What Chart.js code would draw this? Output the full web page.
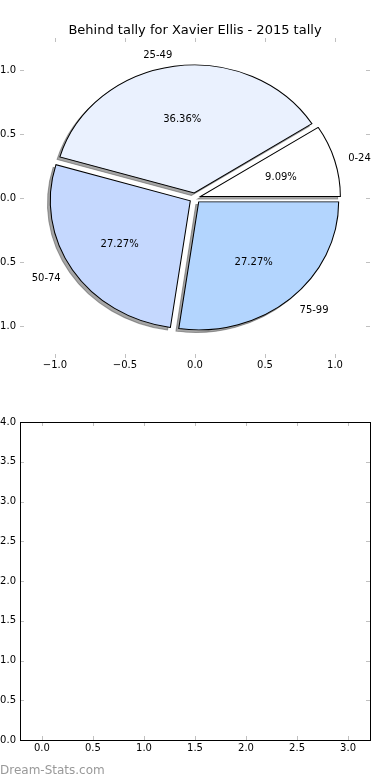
<!DOCTYPE html>
<html>
<head>
<meta charset="utf-8">
<script src="https://cdn.jsdelivr.net/npm/chart.js@4.4.0/dist/chart.umd.min.js"></script>
<style>
  html, body { margin: 0; padding: 0; background: #fff; }
  #pagina { position: relative; width: 390px; height: 780px; overflow: hidden; background: #fff; }
  canvas { position: absolute; }
  #marca { position: absolute; left: 0; top: 763px; font: 12px "DejaVu Sans"; line-height: 14px; color: #999; }
</style>
</head>
<body>
<div id="pagina">
  <canvas id="ejesTorta" width="430" height="390" style="left:-20px;top:0"></canvas>
  <canvas id="torta" width="430" height="390" style="left:-20px;top:0"></canvas>
  <canvas id="ejesVacios" width="430" height="390" style="left:-20px;top:390px"></canvas>
  <div id="marca">Dream-Stats.com</div>
</div>
<script>
// datos de la torta (orden de matplotlib: desde el este, antihorario)
const rangos = ['0-24', '25-49', '50-74', '75-99'];
const cantidades = [1, 4, 3, 3];
const colores = ['#ffffff', '#eaf1fe', '#c5d8fe', '#b3d5fe'];
const titulo = 'Behind tally for Xavier Ellis - 2015 tally';

// ticks de los ejes
const ticksTorta = [-1, -0.5, 0, 0.5, 1];
const limitesTorta = [-1.25, 1.25];
const ticksVacioX = [0, 0.5, 1, 1.5, 2, 2.5, 3];
const ticksVacioY = [0, 0.5, 1, 1.5, 2, 2.5, 3, 3.5, 4];
const limitesVacioX = [-0.215, 3.215];
const limitesVacioY = [0, 4];

const EXPLOTAR = 0.04;
const fuente = { family: 'DejaVu Sans', size: 10 };

function formatoTick(v) {
    return (v < 0 ? '\u2212' : '') + Math.abs(v).toFixed(1);
}

/**
 * escala lineal con ticks fijos y tamaño fijo
 */
function escala(lado, limites, ticks, tam, relleno) {
    return {
        type: 'linear',
        position: lado,
        min: limites[0],
        max: limites[1],
        afterBuildTicks: (s) => { s.ticks = ticks.map(v => ({ value: v })); },
        afterFit: (s) => {
            if (lado === 'left') s.width = tam; else s.height = tam;
        },
        grid: { display: false, drawTicks: false },
        border: { display: false },
        ticks: { color: '#000', font: fuente, padding: relleno, callback: formatoTick, autoSkip: false, maxRotation: 0 }
    };
}

// marcas cortas hacia dentro en los cuatro lados
const marcasInternas = {
    id: 'marcasInternas',
    afterDraw(chart, args, opts) {
        const { ctx, chartArea: a, scales } = chart;
        ctx.save();
        ctx.strokeStyle = '#c0c0c0';
        ctx.lineWidth = 1;
        ctx.beginPath();
        scales.x.ticks.forEach(t => {
            const px = Math.round(scales.x.getPixelForValue(t.value)) + 0.5;
            ctx.moveTo(px, a.top); ctx.lineTo(px, a.top + 4);
            ctx.moveTo(px, a.bottom); ctx.lineTo(px, a.bottom - 4);
        });
        scales.y.ticks.forEach(t => {
            const py = Math.round(scales.y.getPixelForValue(t.value)) + 0.5;
            ctx.moveTo(a.left, py); ctx.lineTo(a.left + 4, py);
            ctx.moveTo(a.right, py); ctx.lineTo(a.right - 4, py);
        });
        ctx.stroke();
        if (opts.marco) {
            ctx.strokeStyle = '#000';
            ctx.strokeRect(Math.round(a.left) + 0.5, Math.round(a.top) + 0.5,
                Math.round(a.right - a.left), Math.round(a.bottom - a.top));
        }
        ctx.restore();
    }
};

const graficoEjes = new Chart(document.getElementById('ejesTorta'), {
    type: 'scatter',
    data: { datasets: [] },
    options: {
        responsive: false,
        animation: false,
        layout: { padding: { left: 0, right: 40, top: 38, bottom: 0 } },
        scales: {
            x: escala('bottom', limitesTorta, ticksTorta, 32, 1),
            y: escala('left', limitesTorta, ticksTorta, 40, 4)
        },
        plugins: {
            legend: { display: false },
            tooltip: { enabled: false },
            marcasInternas: { marco: false }
        }
    },
    plugins: [marcasInternas]
});

// matplotlib pinta antihorario desde el este; Chart.js horario -> invertir
const rangosInv = rangos.slice().reverse();
const cantidadesInv = cantidades.slice().reverse();
const coloresInv = colores.slice().reverse();

function medidasEjes() {
    const sx = graficoEjes.scales.x, sy = graficoEjes.scales.y;
    const cx = sx.getPixelForValue(0), cy = sy.getPixelForValue(0);
    return { cx, cy, rx: sx.getPixelForValue(1) - cx, ry: cy - sy.getPixelForValue(1) };
}

function dibujarCuna(ctx, arco, m, dx, dy, cambios) {
    const original = arco.options;
    arco.options = Object.assign({}, original, cambios);
    ctx.save();
    ctx.translate(m.cx + dx, m.cy + dy);
    ctx.scale(m.rx / arco.outerRadius, m.ry / arco.outerRadius);
    ctx.translate(-arco.x, -arco.y);
    arco.draw(ctx);
    ctx.restore();
    arco.options = original;
}

// torta elíptica sobre las escalas del gráfico de ejes, con sombra y explosión
const tortaEliptica = {
    id: 'tortaEliptica',
    beforeDatasetDraw(chart, args) {
        const ctx = chart.ctx;
        const m = medidasEjes();
        const arcos = args.meta.data;
        const grosor = 2 * arcos[0].outerRadius / (m.rx + m.ry);
        const desplazar = (arco) => {
            const medio = (arco.startAngle + arco.endAngle) / 2;
            return [EXPLOTAR * m.rx * Math.cos(medio), EXPLOTAR * m.ry * Math.sin(medio)];
        };
        arcos.forEach(arco => {
            const [dx, dy] = desplazar(arco);
            dibujarCuna(ctx, arco, m, dx - 0.02 * m.rx, dy + 0.02 * m.ry, {
                backgroundColor: 'rgba(77,77,77,0.5)', borderColor: 'rgba(77,77,77,0.5)', borderWidth: grosor
            });
        });
        arcos.forEach(arco => {
            const [dx, dy] = desplazar(arco);
            dibujarCuna(ctx, arco, m, dx, dy, { borderWidth: grosor });
        });
        return false;
    },
    afterDatasetsDraw(chart) {
        const ctx = chart.ctx;
        const m = medidasEjes();
        const datos = chart.data.datasets[0].data;
        const total = datos.reduce((a, b) => a + b, 0);
        const bajar = 2; // matplotlib centra un poco más abajo que 'middle'
        ctx.save();
        ctx.fillStyle = '#000';
        ctx.font = '10px "DejaVu Sans"';
        ctx.textBaseline = 'middle';
        chart.getDatasetMeta(0).data.forEach((arco, i) => {
            const medio = (arco.startAngle + arco.endAngle) / 2;
            const c = Math.cos(medio), s = Math.sin(medio);
            ctx.textAlign = c > 0 ? 'left' : 'right';
            ctx.fillText(chart.data.labels[i],
                m.cx + (1.1 + EXPLOTAR) * m.rx * c, m.cy + (1.1 + EXPLOTAR) * m.ry * s + bajar);
            ctx.textAlign = 'center';
            ctx.fillText((datos[i] / total * 100).toFixed(2) + '%',
                m.cx + (0.6 + EXPLOTAR) * m.rx * c, m.cy + (0.6 + EXPLOTAR) * m.ry * s + bajar);
        });
        ctx.restore();
    }
};

// el título va en este lienzo: con relleno 40/40 queda centrado sobre los ejes
new Chart(document.getElementById('torta'), {
    type: 'pie',
    data: {
        labels: rangosInv,
        datasets: [{
            data: cantidadesInv,
            backgroundColor: coloresInv,
            borderColor: '#000',
            borderWidth: 1,
            borderJoinStyle: 'miter'
        }]
    },
    options: {
        responsive: false,
        animation: false,
        rotation: 90,
        layout: { padding: { left: 40, right: 40, top: 0, bottom: 20 } },
        plugins: {
            legend: { display: false },
            tooltip: { enabled: false },
            title: {
                display: true, text: titulo, color: '#000',
                font: { family: 'DejaVu Sans', size: 13, weight: 'normal' },
                padding: { top: 23, bottom: 0.4 }
            }
        }
    },
    plugins: [tortaEliptica]
});

// segundo panel: ejes vacíos con marco
new Chart(document.getElementById('ejesVacios'), {
    type: 'scatter',
    data: { datasets: [] },
    options: {
        responsive: false,
        animation: false,
        layout: { padding: { left: 0, right: 40, top: 32, bottom: 0 } },
        scales: {
            x: escala('bottom', limitesVacioX, ticksVacioX, 40, 2),
            y: escala('left', limitesVacioY, ticksVacioY, 40, 4)
        },
        plugins: {
            legend: { display: false },
            tooltip: { enabled: false },
            marcasInternas: { marco: true }
        }
    },
    plugins: [marcasInternas]
});
</script>
</body>
</html>
